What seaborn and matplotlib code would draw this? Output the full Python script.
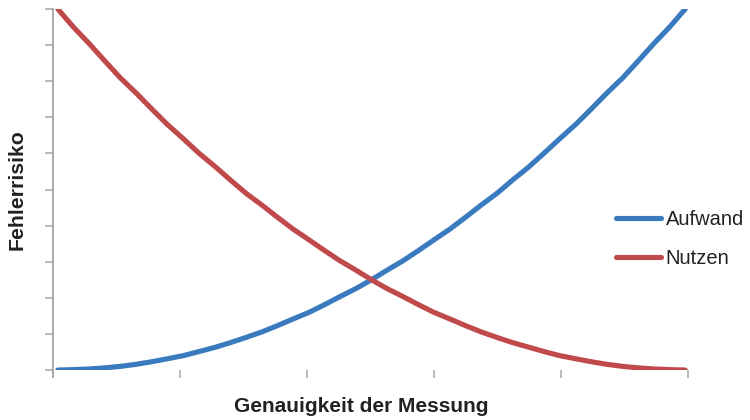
import matplotlib
matplotlib.use("Agg")
import matplotlib.pyplot as plt
import seaborn as sns
import pandas as pd

# Data
genauigkeit = [0.04, 0.16, 0.29, 0.41, 0.53, 0.66, 0.78, 0.90, 1.03, 1.15, 1.28,
               1.40, 1.52, 1.65, 1.77, 1.89, 2.02, 2.14, 2.26, 2.39, 2.51,
               2.63, 2.76, 2.88, 3.00, 3.13, 3.25, 3.37, 3.50, 3.62, 3.75,
               3.87, 3.99, 4.12, 4.24, 4.36, 4.49, 4.61, 4.73, 4.86, 4.98]
aufwand = [0.0, 0.01, 0.03, 0.06, 0.1, 0.16, 0.23, 0.31, 0.4, 0.51, 0.63,
           0.76, 0.9, 1.06, 1.23, 1.41, 1.6, 1.81, 2.03, 2.26, 2.5,
           2.76, 3.03, 3.31, 3.6, 3.91, 4.23, 4.56, 4.9, 5.26, 5.63,
           6.01, 6.4, 6.81, 7.23, 7.66, 8.1, 8.56, 9.03, 9.51, 10.0]
nutzen = [10.0, 9.51, 9.03, 8.56, 8.1, 7.66, 7.23, 6.81, 6.4, 6.01, 5.63,
          5.26, 4.9, 4.56, 4.23, 3.91, 3.6, 3.31, 3.03, 2.76, 2.5,
          2.26, 2.03, 1.81, 1.6, 1.41, 1.23, 1.06, 0.9, 0.76, 0.63,
          0.51, 0.4, 0.31, 0.23, 0.16, 0.1, 0.06, 0.03, 0.01, 0.0]
series_names = ["Aufwand", "Nutzen"]
x_ticks = [0, 1, 2, 3, 4, 5]
y_ticks = list(range(0, 11))

df = pd.DataFrame({
    "x": genauigkeit * 2,
    "y": aufwand + nutzen,
    "Serie": [series_names[0]] * len(aufwand) + [series_names[1]] * len(nutzen),
})

sns.set_theme(style="white")
plt.rcParams["font.family"] = ["Liberation Sans", "DejaVu Sans"]

fig = plt.figure(figsize=(7.5, 4.2), dpi=100)
ax = fig.add_axes([0.0703, 0.119, 0.917 - 0.0703, 0.9786 - 0.119])

palette = {"Aufwand": "#3a7abf", "Nutzen": "#c0494b"}
sns.lineplot(data=df, x="x", y="y", hue="Serie", palette=palette,
             linewidth=3.7, ax=ax, sort=False, legend=True,
             solid_capstyle="round", solid_joinstyle="round")

ax.set_xlim(0, 5)
ax.set_ylim(0, 10)
ax.set_xticks(x_ticks)
ax.set_yticks(y_ticks)
ax.set_xticklabels([])
ax.set_yticklabels([])
ax.set_xlabel("")
ax.set_ylabel("")

gray = "#a6a6a6"
for s in ["top", "right", "bottom"]:
    ax.spines[s].set_visible(False)
ax.spines["left"].set_color(gray)
ax.spines["left"].set_linewidth(1.3)
ax.spines["left"].set_bounds(-0.19, 10)
ax.tick_params(axis="both", which="major", direction="out", length=6,
               width=1.1, color=gray, left=True, bottom=True)

fig.text(361 / 750, 1 - 406 / 420, "Genauigkeit der Messung", fontsize=15,
         fontweight="bold", color="#222222", ha="center", va="center")
fig.text(17 / 750, 1 - 190 / 420, "Fehlerrisiko", fontsize=15.3,
         fontweight="bold", color="#222222", ha="center", va="center",
         rotation=90)

leg = ax.legend(loc="center left", bbox_to_anchor=(615.5 / 750, 1 - 239 / 420),
                bbox_transform=fig.transFigure, frameon=False,
                fontsize=14.5, handlelength=2.25, handletextpad=0.25,
                labelspacing=0.95, borderaxespad=0, borderpad=0)
for t in leg.get_texts():
    t.set_color("#222222")
for h in leg.get_lines():
    h.set_linewidth(3.7)
    h.set_solid_capstyle("round")

fig.savefig("out.png", dpi=100)
